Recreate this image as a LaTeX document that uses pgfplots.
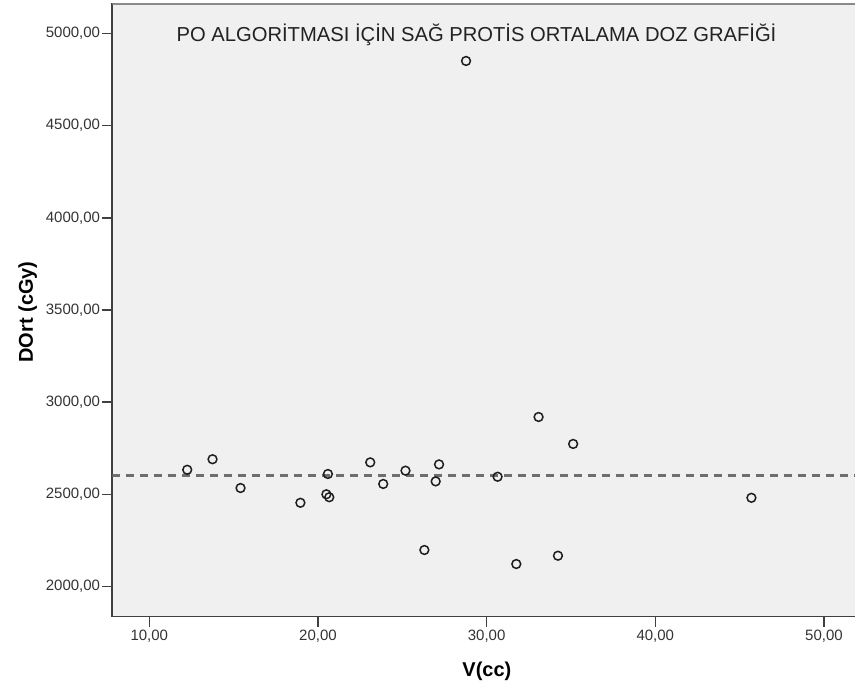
\documentclass[border=0pt]{standalone}
\usepackage{fontspec}
\setmainfont{Liberation Sans}
\usepackage{pgfplots}
\pgfplotsset{compat=1.18}
\definecolor{bg}{HTML}{F0F0F0}
\definecolor{axisc}{HTML}{404040}
\definecolor{topc}{HTML}{8A8A8A}
\definecolor{tickc}{HTML}{333333}
\definecolor{markc}{HTML}{1E1E1E}
\definecolor{dashc}{HTML}{6E6E6E}
\definecolor{titlec}{HTML}{222222}
\begin{document}
\begin{tikzpicture}
\begin{axis}[
  scale only axis, width=744.7pt, height=613pt,
  xmin=7.807, xmax=51.96, ymin=1838.5, ymax=5161.5,
  axis background/.style={fill=bg},
  axis x line*=bottom, axis y line*=left,
  axis line style={draw=axisc, line width=1.8pt},
  tick align=outside, major tick length=10pt,
  tick style={draw=axisc, line width=1.5pt},
  xtick={10,20,30,40,50}, ytick={2000,2500,3000,3500,4000,4500,5000},
  /pgf/number format/.cd, fixed, fixed zerofill, precision=2, use comma, 1000 sep={}, assume math mode=true,
  /pgfplots/.cd,
  ticklabel style={font=\fontsize{15}{18}\selectfont, text=tickc, inner sep=0pt},
  xticklabel style={yshift=-3.5pt},
  yticklabel style={xshift=-2pt},
  xlabel={V(cc)}, ylabel={DOrt (cGy)},
  label style={font=\bfseries\fontsize{20}{24}\selectfont},
  xlabel style={at={(axis description cs:0.503,-0.0979)}, anchor=base},
  ylabel style={at={(axis description cs:-0.1065,0.4967)}, anchor=base},
]
\addplot[dashc, line width=2.4pt, dash pattern=on 8pt off 6pt, forget plot] coordinates {(7.807,2602) (51.96,2602)};
\addplot[only marks, mark=o, mark size=4.4pt, mark options={line width=1.5pt, draw=markc, fill=none}] coordinates {
(12.25,2634) (13.75,2691) (15.41,2535) (18.96,2455) (20.59,2611)
(20.50,2501) (20.67,2485) (23.10,2674) (23.87,2557) (25.19,2629)
(26.31,2199) (26.98,2571) (27.18,2663) (28.78,4850) (30.65,2596)
(31.76,2123) (33.08,2920) (34.23,2168) (35.13,2774) (45.70,2482)
};
\draw[draw=topc, line width=2.2pt] (rel axis cs:0,1) -- (rel axis cs:1,1);
\node[anchor=base, font=\fontsize{20.2}{24}\selectfont, text=titlec] at (rel axis cs:0.489,0.938) {PO ALGORİTMASI İÇİN SAĞ PROTİS ORTALAMA DOZ GRAFİĞİ};
\end{axis}
\pgfresetboundingbox
\path ([shift={(-112.3pt,-71.5pt)}]current axis.south west) rectangle ([shift={(-2pt,3.5pt)}]current axis.north east);
\end{tikzpicture}
\end{document}
